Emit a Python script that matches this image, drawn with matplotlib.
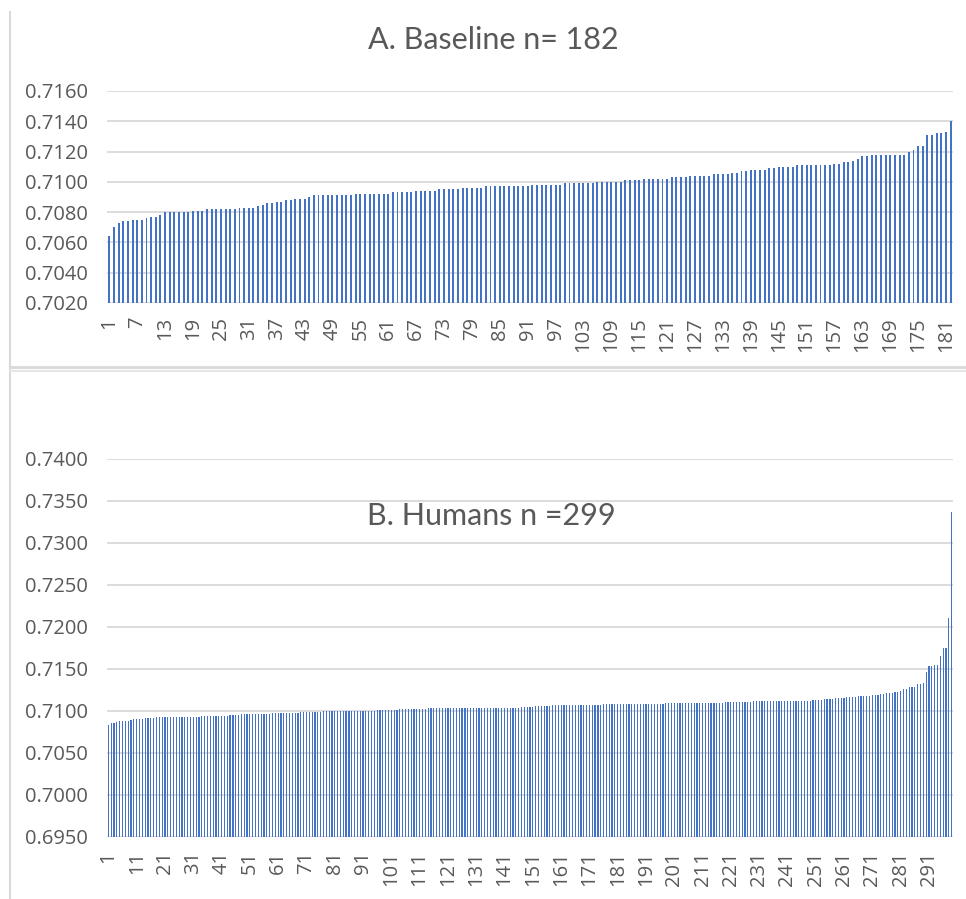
import matplotlib
matplotlib.use("Agg")
import matplotlib.pyplot as plt
from matplotlib.lines import Line2D
import numpy as np

plt.rcParams['font.family'] = ['Open Sans', 'DejaVu Sans']

# Sorted ratios, baseline group (n = 182)
baseline = [
    0.7064, 0.7070, 0.7073, 0.7074, 0.7074, 0.7075, 0.7075, 0.7075, 0.7076, 0.7077,
    0.7077, 0.7078, 0.7080, 0.7080, 0.7080, 0.7080, 0.7080, 0.7080, 0.7081, 0.7081,
    0.7081, 0.7082, 0.7082, 0.7082, 0.7082, 0.7082, 0.7082, 0.7082, 0.7083, 0.7083,
    0.7083, 0.7083, 0.7084, 0.7085, 0.7086, 0.7086, 0.7087, 0.7087, 0.7088, 0.7088,
    0.7089, 0.7089, 0.7089, 0.7090, 0.7091, 0.7091, 0.7091, 0.7091, 0.7091, 0.7091,
    0.7091, 0.7091, 0.7091, 0.7092, 0.7092, 0.7092, 0.7092, 0.7092, 0.7092, 0.7092,
    0.7092, 0.7093, 0.7093, 0.7093, 0.7093, 0.7093, 0.7094, 0.7094, 0.7094, 0.7094,
    0.7094, 0.7095, 0.7095, 0.7095, 0.7095, 0.7095, 0.7096, 0.7096, 0.7096, 0.7096,
    0.7096, 0.7097, 0.7097, 0.7097, 0.7097, 0.7097, 0.7097, 0.7097, 0.7097, 0.7097,
    0.7097, 0.7098, 0.7098, 0.7098, 0.7098, 0.7098, 0.7098, 0.7098, 0.7099, 0.7099,
    0.7099, 0.7099, 0.7099, 0.7099, 0.7099, 0.7100, 0.7100, 0.7100, 0.7100, 0.7100,
    0.7100, 0.7101, 0.7101, 0.7101, 0.7101, 0.7102, 0.7102, 0.7102, 0.7102, 0.7102,
    0.7102, 0.7103, 0.7103, 0.7103, 0.7103, 0.7104, 0.7104, 0.7104, 0.7104, 0.7104,
    0.7105, 0.7105, 0.7105, 0.7105, 0.7106, 0.7106, 0.7107, 0.7107, 0.7108, 0.7108,
    0.7108, 0.7108, 0.7109, 0.7109, 0.7110, 0.7110, 0.7110, 0.7110, 0.7111, 0.7111,
    0.7111, 0.7111, 0.7111, 0.7111, 0.7111, 0.7111, 0.7112, 0.7112, 0.7113, 0.7113,
    0.7114, 0.7115, 0.7117, 0.7117, 0.7118, 0.7118, 0.7118, 0.7118, 0.7118, 0.7118,
    0.7118, 0.7118, 0.7120, 0.7121, 0.7124, 0.7124, 0.7131, 0.7131, 0.7132, 0.7132,
    0.7133, 0.7140,
]

# Sorted ratios, human group (n = 299)
humans = [
    0.7083, 0.7086, 0.7086, 0.7087, 0.7088, 0.7088, 0.7088, 0.7088, 0.7089, 0.7090,
    0.7090, 0.7090, 0.7091, 0.7092, 0.7092, 0.7092, 0.7092, 0.7093, 0.7093, 0.7093,
    0.7093, 0.7093, 0.7093, 0.7093, 0.7093, 0.7093, 0.7093, 0.7093, 0.7093, 0.7093,
    0.7093, 0.7093, 0.7093, 0.7094, 0.7094, 0.7094, 0.7094, 0.7094, 0.7094, 0.7094,
    0.7094, 0.7094, 0.7094, 0.7095, 0.7095, 0.7095, 0.7095, 0.7096, 0.7096, 0.7096,
    0.7096, 0.7096, 0.7097, 0.7097, 0.7097, 0.7097, 0.7097, 0.7097, 0.7098, 0.7098,
    0.7098, 0.7098, 0.7098, 0.7098, 0.7098, 0.7098, 0.7098, 0.7098, 0.7099, 0.7099,
    0.7099, 0.7099, 0.7099, 0.7099, 0.7099, 0.7099, 0.7100, 0.7100, 0.7100, 0.7100,
    0.7100, 0.7100, 0.7100, 0.7100, 0.7100, 0.7100, 0.7100, 0.7100, 0.7100, 0.7100,
    0.7100, 0.7100, 0.7100, 0.7100, 0.7100, 0.7101, 0.7101, 0.7101, 0.7101, 0.7101,
    0.7101, 0.7101, 0.7101, 0.7102, 0.7102, 0.7102, 0.7102, 0.7102, 0.7102, 0.7102,
    0.7102, 0.7102, 0.7102, 0.7103, 0.7103, 0.7103, 0.7103, 0.7103, 0.7103, 0.7103,
    0.7103, 0.7103, 0.7103, 0.7103, 0.7103, 0.7103, 0.7103, 0.7103, 0.7103, 0.7103,
    0.7103, 0.7104, 0.7104, 0.7104, 0.7104, 0.7104, 0.7104, 0.7104, 0.7104, 0.7104,
    0.7104, 0.7104, 0.7104, 0.7104, 0.7104, 0.7104, 0.7105, 0.7105, 0.7105, 0.7105,
    0.7105, 0.7106, 0.7106, 0.7106, 0.7106, 0.7106, 0.7106, 0.7107, 0.7107, 0.7107,
    0.7107, 0.7107, 0.7107, 0.7107, 0.7107, 0.7107, 0.7107, 0.7107, 0.7107, 0.7107,
    0.7107, 0.7107, 0.7107, 0.7107, 0.7107, 0.7108, 0.7108, 0.7108, 0.7108, 0.7108,
    0.7108, 0.7108, 0.7108, 0.7108, 0.7108, 0.7108, 0.7108, 0.7108, 0.7108, 0.7108,
    0.7108, 0.7108, 0.7108, 0.7108, 0.7108, 0.7108, 0.7108, 0.7109, 0.7109, 0.7109,
    0.7109, 0.7109, 0.7109, 0.7109, 0.7109, 0.7109, 0.7109, 0.7110, 0.7110, 0.7110,
    0.7110, 0.7110, 0.7110, 0.7110, 0.7110, 0.7110, 0.7110, 0.7110, 0.7111, 0.7111,
    0.7111, 0.7111, 0.7111, 0.7111, 0.7111, 0.7111, 0.7111, 0.7111, 0.7112, 0.7112,
    0.7112, 0.7112, 0.7112, 0.7112, 0.7112, 0.7112, 0.7112, 0.7112, 0.7112, 0.7112,
    0.7112, 0.7112, 0.7112, 0.7112, 0.7112, 0.7112, 0.7112, 0.7112, 0.7112, 0.7113,
    0.7113, 0.7113, 0.7113, 0.7114, 0.7114, 0.7114, 0.7114, 0.7115, 0.7116, 0.7116,
    0.7116, 0.7117, 0.7117, 0.7117, 0.7117, 0.7118, 0.7118, 0.7118, 0.7118, 0.7118,
    0.7119, 0.7119, 0.7119, 0.7120, 0.7120, 0.7121, 0.7121, 0.7122, 0.7123, 0.7123,
    0.7124, 0.7126, 0.7126, 0.7128, 0.7129, 0.7129, 0.7132, 0.7132, 0.7133, 0.7147,
    0.7154, 0.7154, 0.7155, 0.7155, 0.7166, 0.7175, 0.7175, 0.7211, 0.7337,
]

title_a = "A. Baseline n= 182"
title_b = "B. Humans n =299"
yticks_a = [0.7020, 0.7040, 0.7060, 0.7080, 0.7100, 0.7120, 0.7140, 0.7160]
yticks_b = [0.6950, 0.7000, 0.7050, 0.7100, 0.7150, 0.7200, 0.7250, 0.7300, 0.7350, 0.7400]
xstep_a = 6
xstep_b = 10

BAR = "#4472C4"
GRID = "#D9D9D9"
TEXT = "#595959"
TICK_FONT = ["Open Sans", "DejaVu Sans"]
TITLE_FONT = ["Lato", "DejaVu Sans"]
TICK_SIZE = 14.5
W, H = 966, 899

fig = plt.figure(figsize=(W / 100, H / 100), dpi=100)
fig.patch.set_facecolor("white")


def px_axes(left, top, right, bottom):
    return fig.add_axes([left / W, 1 - bottom / H, (right - left) / W, (bottom - top) / H])


def style(ax, values, yticks, step):
    n = len(values)
    idx = np.arange(1, n + 1)
    ax.bar(idx, values, width=0.42, color=BAR, linewidth=0, zorder=2)
    ax.set_xlim(0.5, n + 0.5)
    ax.set_ylim(yticks[0], yticks[-1])
    ax.set_yticks(yticks, [f"{v:.4f}" for v in yticks],
                  fontsize=TICK_SIZE, family=TICK_FONT, color=TEXT)
    ticks = list(range(1, n + 1, step))
    ax.set_xticks(ticks, [str(t) for t in ticks], rotation=90,
                  fontsize=TICK_SIZE, family=TICK_FONT, color=TEXT)
    ax.grid(axis="y", color=GRID, linewidth=1.3, zorder=0)
    ax.set_axisbelow(True)
    for s in ax.spines.values():
        s.set_visible(False)
    ax.tick_params(axis="y", length=0, pad=14)
    ax.tick_params(axis="x", length=0, pad=10)


ax_a = px_axes(107, 91, 953, 303)
style(ax_a, baseline, yticks_a, xstep_a)

ax_b = px_axes(107, 459, 953, 837)
style(ax_b, humans, yticks_b, xstep_b)

fig.text(493 / W, 1 - 40 / H, title_a, ha="center", va="center", fontsize=22,
         color=TEXT, family=TITLE_FONT)
fig.text(491 / W, 1 - 516 / H, title_b, ha="center", va="center", fontsize=22,
         color=TEXT, family=TITLE_FONT)

# chart frames
frame = "#D9D9D9"
fig.add_artist(Line2D([9.5 / W, 9.5 / W], [1 - 12 / H, 0], color=frame, linewidth=1.5,
                      transform=fig.transFigure))
fig.add_artist(Line2D([9.5 / W, 1], [1 - 367 / H, 1 - 367 / H], color=frame, linewidth=2,
                      transform=fig.transFigure))
fig.add_artist(Line2D([9.5 / W, 1], [1 - 370.5 / H, 1 - 370.5 / H], color="#E6E6E6",
                      linewidth=1.5, transform=fig.transFigure))

fig.savefig("out.png", dpi=100, facecolor="white")
